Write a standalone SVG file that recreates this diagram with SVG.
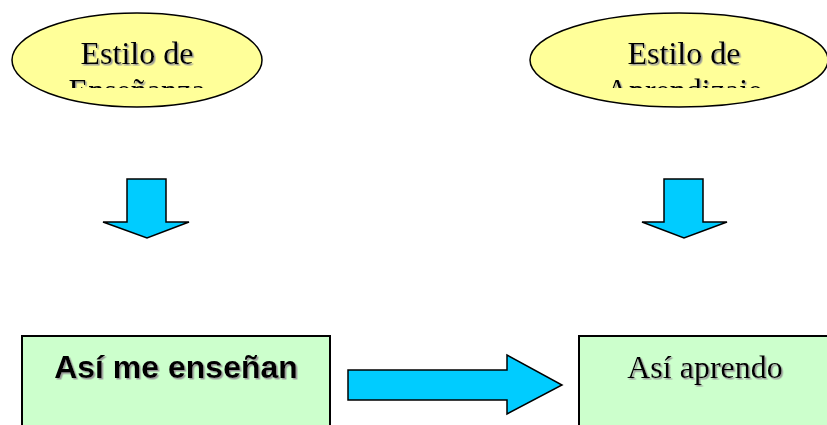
<svg xmlns="http://www.w3.org/2000/svg" width="827" height="425" viewBox="0 0 827 425">
<style>
.ell{fill:#FFFF99;stroke:#000;stroke-width:1.5}
.box{fill:#CCFFCC;stroke:#000;stroke-width:2}
.arr{fill:#00CCFF;stroke:#000;stroke-width:1.5;stroke-linejoin:miter}
.serif{font-family:"Liberation Serif","Times New Roman",serif;font-size:32px;fill:#000;text-anchor:middle}
.sans{font-family:"Liberation Sans",Arial,sans-serif;font-size:32px;font-weight:bold;fill:#000;text-anchor:middle}
</style>
<defs>
<filter id="sh" x="-10%" y="-20%" width="120%" height="150%">
<feDropShadow dx="1.5" dy="1.5" stdDeviation="0.4" flood-color="#999" flood-opacity="1"/>
</filter>
<clipPath id="clipText"><rect x="0" y="0" width="827" height="88"/></clipPath>
</defs>
<rect width="827" height="425" fill="#fff"/>
<g id="ensenanza">
<ellipse class="ell" cx="137" cy="60" rx="125" ry="47"/>
<g clip-path="url(#clipText)" filter="url(#sh)">
<text class="serif" x="137" y="64">Estilo de</text>
<text class="serif" x="137" y="101">Enseñanza</text>
</g>
</g>
<g id="aprendizaje">
<ellipse class="ell" cx="679" cy="60" rx="149" ry="47"/>
<g clip-path="url(#clipText)" filter="url(#sh)">
<text class="serif" x="684" y="64">Estilo de</text>
<text class="serif" x="684" y="101">Aprendizaje</text>
</g>
</g>
<g id="me-ensenan">
<rect class="box" x="22" y="336" width="308" height="100"/>
<text class="sans" x="176" y="378" filter="url(#sh)">Así me enseñan</text>
</g>
<g id="aprendo">
<rect class="box" x="579" y="336" width="252" height="100"/>
<text class="serif" x="705" y="378" filter="url(#sh)">Así aprendo</text>
</g>
<g id="connectors">
<polygon class="arr" points="127,179 166,179 166,222 189,222 147,238 103,222 127,222"/>
<polygon class="arr" points="664,179 703,179 703,222 727,222 684,238 642,222 664,222"/>
<polygon class="arr" points="348,370 507,370 507,355 562,385 507,414 507,400 348,400"/>
</g>
</svg>
